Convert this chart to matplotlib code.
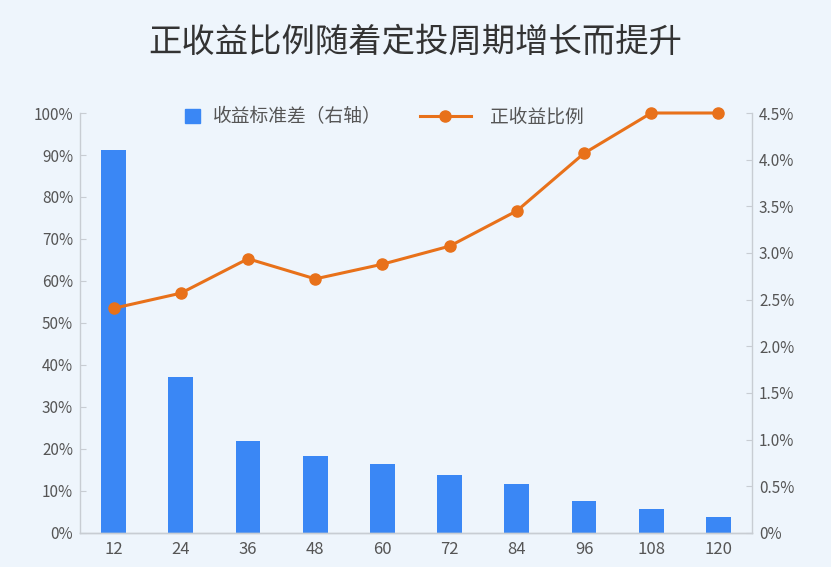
import matplotlib
matplotlib.use("Agg")
import matplotlib.pyplot as plt
from matplotlib.patches import Patch
from matplotlib.ticker import FuncFormatter, MultipleLocator

plt.rcParams['font.family'] = ['Noto Sans CJK SC', 'DejaVu Sans']

# Data
periods = ["12", "24", "36", "48", "60", "72", "84", "96", "108", "120"]
positive_ratio = [53.5, 57.1, 65.3, 60.5, 64.0, 68.3, 76.7, 90.4, 100.0, 100.0]  # %, left axis
return_std = [4.10, 1.67, 0.99, 0.82, 0.74, 0.62, 0.53, 0.34, 0.26, 0.17]  # %, right axis

bg = "#EEF5FC"
blue = "#3A87F5"
orange = "#E8711A"
grey_text = "#555555"
axis_grey = "#C8CDD3"

fig = plt.figure(figsize=(8.31, 5.67), dpi=100, facecolor=bg)
ax = fig.add_axes([0.0963, 0.06, 0.8087, 0.7407])
ax2 = ax.twinx()

x = list(range(len(periods)))

# Bars on right axis
ax2.bar(x, return_std, width=0.37, color=blue)
ax2.set_ylim(0, 4.5)
ax2.yaxis.set_major_locator(MultipleLocator(0.5))
ax2.yaxis.set_major_formatter(FuncFormatter(lambda v, p: "0%" if v == 0 else f"{v:.1f}%"))

# Line on left axis, drawn above the bars
line, = ax.plot(x, positive_ratio, color=orange, lw=2.2, marker="o", markersize=8,
                clip_on=False)
ax.set_ylim(0, 100)
ax.yaxis.set_major_locator(MultipleLocator(10))
ax.yaxis.set_major_formatter(FuncFormatter(lambda v, p: f"{v:.0f}%"))
ax.set_xlim(-0.5, len(periods) - 0.5)
ax.set_xticks(x)
ax.set_xticklabels(periods)

ax.set_zorder(ax2.get_zorder() + 1)
ax.patch.set_visible(False)
ax2.patch.set_facecolor(bg)

for a in (ax, ax2):
    a.spines["top"].set_visible(False)
    for s in ("left", "right", "bottom"):
        a.spines[s].set_color(axis_grey)
        a.spines[s].set_linewidth(1.0)
    a.tick_params(axis="y", direction="in", length=4, color=axis_grey,
                  labelsize=11, labelcolor=grey_text, pad=5)
ax.spines["right"].set_visible(False)
ax2.spines["left"].set_visible(False)
ax.tick_params(axis="x", length=0, labelsize=12, labelcolor=grey_text, pad=6)

# Legends (two, so each handle gets its own size)
fig.legend([Patch(color=blue)], ["收益标准差（右轴）"], loc="center left",
           bbox_to_anchor=(0.2226, 0.7937), frameon=False, fontsize=13.5,
           labelcolor=grey_text, handlelength=0.8, handleheight=0.8,
           handletextpad=0.7, borderpad=0, borderaxespad=0)
fig.legend([line], ["正收益比例"], loc="center left",
           bbox_to_anchor=(0.5054, 0.7937), frameon=False, fontsize=13.5,
           labelcolor=grey_text, handlelength=2.7, handletextpad=1.05,
           borderpad=0, borderaxespad=0)

fig.text(0.5, 0.925, "正收益比例随着定投周期增长而提升", ha="center", va="center",
         fontsize=24, color="#333333")

fig.savefig("out.png", dpi=100, facecolor=bg)
